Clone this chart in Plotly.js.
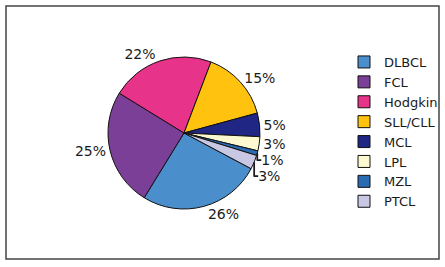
<!DOCTYPE html>
<html><head><meta charset="utf-8">
<script src="https://cdn.plot.ly/plotly-3.0.1.min.js"></script>
<style>html,body{margin:0;padding:0;background:#fff}#chart{width:445px;height:267px}</style>
</head><body><div id="chart"></div>
<script>
const categories = ["DLBCL","FCL","Hodgkin","SLL/CLL","MCL","LPL","MZL","PTCL"];
const values = [26,25,22,15,5,3,1,3];
const colors = ["#4A8ECB","#7B3F98","#E8338B","#FFC20E","#1F2683","#FCF9D0","#2A6CB4","#C9C8E4"];

const W = 445, H = 267;
const cx = 184, cy = 133, r = 76;
const trace = {
  type: "pie",
  labels: categories,
  values: values,
  sort: false,
  direction: "clockwise",
  rotation: 118,
  marker: {colors: colors, line: {color: "#111", width: 1}},
  textinfo: "percent",
  texttemplate: "%{percent:.0%}",
  textposition: "outside",
  outsidetextfont: {family: "DejaVu Sans", size: 14, color: "#1a1a1a"},
  hoverinfo: "label+percent",
  domain: {x: [(cx - r) / W, (cx + r) / W], y: [(H - cy - r) / H, (H - cy + r) / H]}
};
const layout = {
  width: W, height: H,
  margin: {l: 0, r: 0, t: 0, b: 0, autoexpand: false},
  paper_bgcolor: "#fff",
  font: {family: "DejaVu Sans", size: 13, color: "#1a1a1a"},
  showlegend: true,
  legend: {x: 344 / W, y: (H - 47) / H, xanchor: "left", yanchor: "top",
           font: {family: "DejaVu Sans", size: 13, color: "#1a1a1a"},
           bgcolor: "rgba(0,0,0,0)", itemwidth: 30, tracegroupgap: 0},
  shapes: [{type: "rect", xref: "paper", yref: "paper",
            x0: 6 / W, x1: 439 / W, y0: (H - 259) / H, y1: (H - 6) / H,
            line: {color: "#444", width: 1.5}, fillcolor: "rgba(0,0,0,0)"}]
};
Plotly.newPlot("chart", [trace], layout, {displayModeBar: false, staticPlot: true});
</script></body></html>
